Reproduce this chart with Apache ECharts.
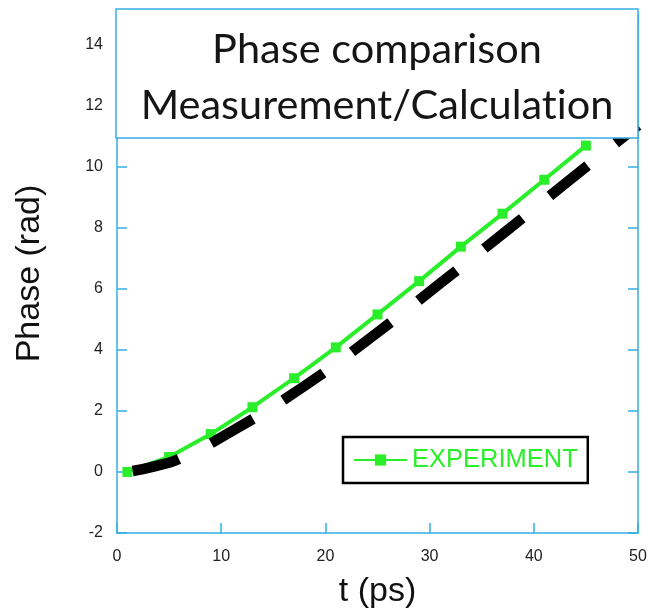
<!DOCTYPE html>
<html>
<head>
<meta charset="utf-8">
<script src="https://cdn.jsdelivr.net/npm/echarts@6/dist/echarts.min.js"></script>
<style>
  html, body { margin: 0; padding: 0; background: #fff; }
  #chart { width: 652px; height: 615px; }
</style>
</head>
<body>
<div id="chart"></div>
<script>
// measured points (t in ps, phase in rad)
var expT = [1, 5, 9, 13, 17, 21, 25, 29, 33, 37, 41, 45];
var expPhase = [0, 0.49, 1.24, 2.12, 3.07, 4.08, 5.16, 6.25, 7.38, 8.46, 9.57, 10.69];

// calculation curve
var calcT = [1.5, 3.8, 6, 11.3, 18.1, 24.7, 31.1, 37.5, 43.9, 50];
var calcPhase = [0.03, 0.2, 0.43, 1.39, 2.84, 4.49, 6.2, 7.93, 9.69, 11.35];

var xTicks = [0, 10, 20, 30, 40, 50];
var yTicks = [-2, 0, 2, 4, 6, 8, 10, 12, 14];

var axisBlue = '#35aee4';
var green = '#2bee2b';

function pairs(xs, ys) {
  return xs.map(function (x, i) { return [x, ys[i]]; });
}

var chart = echarts.init(document.getElementById('chart'));

chart.setOption({
  animation: false,
  title: {
    // \u200C keeps Lato from joining "ti"
    text: 'Phase comparison\nMeasurement/Calculat\u200Cion',
    left: 372,
    top: 17,
    textAlign: 'center',
    textStyle: {
      fontFamily: 'Lato',
      fontWeight: 'normal',
      fontSize: 41.5,
      lineHeight: 56,
      color: '#151515'
    },
    z: 20
  },
  graphic: [{
    type: 'rect',
    shape: { x: 116, y: 9, width: 522, height: 129 },
    style: { fill: '#fff', stroke: axisBlue, lineWidth: 1.5 },
    z: 10
  }],
  legend: {
    data: ['EXPERIMENT'],
    left: 343,
    top: 437,
    padding: [10, 10, 10, 10],
    borderColor: '#000',
    borderWidth: 2.5,
    itemWidth: 53,
    itemHeight: 14,
    itemGap: 4,
    textStyle: { color: green, fontFamily: 'Liberation Sans, Arial', fontSize: 25.5 }
  },
  grid: { left: 117, right: 14, top: 14, bottom: 82 },
  xAxis: [{
    type: 'value',
    min: 0,
    max: 50,
    interval: 10,
    name: 't (ps)',
    nameLocation: 'middle',
    nameGap: 42,
    nameTextStyle: { fontFamily: 'Liberation Sans, Arial', fontSize: 34, color: '#111' },
    axisLine: { show: true, onZero: false, lineStyle: { color: axisBlue, width: 1.5 } },
    axisTick: { inside: true, length: 10, lineStyle: { color: axisBlue, width: 1.5 } },
    axisLabel: { margin: 16, fontFamily: 'Liberation Sans, Arial', fontSize: 16, color: '#222',
      customValues: xTicks },
    splitLine: { show: false }
  }, {
    type: 'value',
    position: 'top',
    min: 0,
    max: 50,
    interval: 10,
    axisLine: { show: true, onZero: false, lineStyle: { color: axisBlue, width: 1.5 } },
    axisTick: { inside: true, length: 10, lineStyle: { color: axisBlue, width: 1.5 } },
    axisLabel: { show: false },
    splitLine: { show: false }
  }],
  yAxis: [{
    type: 'value',
    min: -2,
    max: 15,
    interval: 2,
    name: 'Phase (rad)',
    nameLocation: 'middle',
    nameGap: 70,
    nameTextStyle: { fontFamily: 'Liberation Sans, Arial', fontSize: 34, color: '#111' },
    axisLine: { show: true, onZero: false, lineStyle: { color: axisBlue, width: 1.5 } },
    axisTick: { inside: true, length: 10, lineStyle: { color: axisBlue, width: 1.5 } },
    axisLabel: { margin: 14, fontFamily: 'Liberation Sans, Arial', fontSize: 16, color: '#222',
      showMaxLabel: false,
      formatter: function (v) { return yTicks.indexOf(v) >= 0 ? String(v) : ''; } },
    splitLine: { show: false }
  }, {
    type: 'value',
    position: 'right',
    min: -2,
    max: 15,
    interval: 2,
    axisLine: { show: true, onZero: false, lineStyle: { color: axisBlue, width: 1.5 } },
    axisTick: { inside: true, length: 10, lineStyle: { color: axisBlue, width: 1.5 } },
    axisLabel: { show: false },
    splitLine: { show: false }
  }],
  series: [{
    name: 'EXPERIMENT',
    type: 'line',
    data: pairs(expT, expPhase),
    symbol: 'rect',
    symbolSize: 10,
    showAllSymbol: true,
    lineStyle: { color: green, width: 4 },
    itemStyle: { color: green },
    z: 2
  }, {
    name: 'CALCULATION',
    type: 'line',
    data: pairs(calcT, calcPhase),
    smooth: true,
    showSymbol: false,
    clip: false,
    lineStyle: { color: '#000', width: 10.5, type: [48, 36], cap: 'butt' },
    itemStyle: { color: '#000' },
    z: 3
  }]
});
</script>
</body>
</html>
